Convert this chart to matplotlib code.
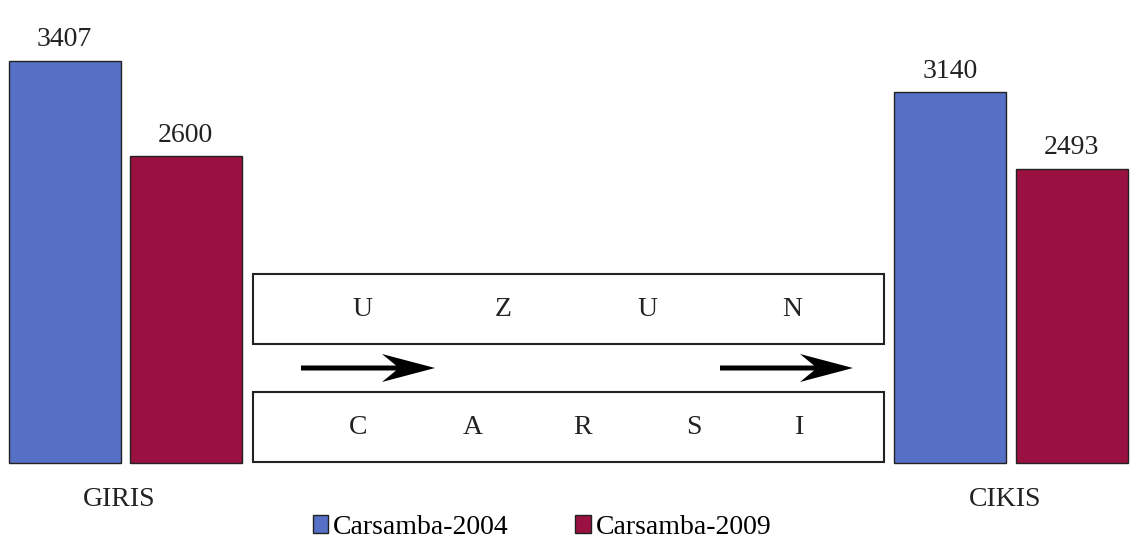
import numpy as np
import matplotlib.pyplot as plt
from matplotlib.patches import Rectangle, Polygon

plt.rcParams['font.family'] = ['Liberation Serif', 'DejaVu Serif']

# data
kategoriler = ['GIRIS', 'CIKIS']
seriler = ['Carsamba-2004', 'Carsamba-2009']
degerler_2004 = [3407, 3140]
degerler_2009 = [2600, 2493]
ust_harfler = ['U', 'Z', 'U', 'N']
alt_harfler = ['C', 'A', 'R', 'S', 'I']

renkler = ['#5570c4', '#9a1141']

W, H = 1131, 547
fig = plt.figure(figsize=(W / 100, H / 100), dpi=100)

# bars: x = category index, y = value (baseline at pixel 463)
ax = fig.add_axes([0, 0, 1, 1])
ax.axis('off')
px_per_unit = 886.0          # pixels between the two groups
k = 0.1181                   # pixels per value unit
ax.set_xlim(-125 / px_per_unit, 1 + 120 / px_per_unit)
ax.set_ylim(-(H - 463) / k, 463 / k)

x = np.arange(len(kategoriler))
bw = 112 / px_per_unit
off = 60.5 / px_per_unit
b1 = ax.bar(x - off, degerler_2004, width=bw, color=renkler[0], edgecolor='#222222',
            linewidth=1.0, label=seriler[0])
b2 = ax.bar(x + off, degerler_2009, width=bw, color=renkler[1], edgecolor='#222222',
            linewidth=1.0, label=seriler[1])
for bars in (b1, b2):
    for r in bars:
        ax.annotate(str(int(r.get_height())), (r.get_x() + r.get_width() / 2, r.get_height()),
                    xytext=(0, 6), textcoords='offset points', ha='center', va='bottom',
                    fontsize=20, color='#222222')

tr = ax.get_xaxis_transform()
for i, kat in enumerate(kategoriler):
    ax.text(i - 0.007, 1 - 500 / H, kat, transform=tr, ha='center', va='center',
            fontsize=20, color='#222222')

ax.legend(loc='center', bbox_to_anchor=(542 / W, 1 - 527 / H), bbox_transform=fig.transFigure,
          ncol=2, frameon=False, fontsize=20, handlelength=0.55, handleheight=0.6,
          handletextpad=0.18, columnspacing=2.4, borderpad=0)

# overlay in pixel coordinates for the street diagram
ov = fig.add_axes([0, 0, 1, 1])
ov.set_xlim(0, W)
ov.set_ylim(H, 0)
ov.axis('off')

ov.add_patch(Rectangle((253, 274), 631, 70, fill=False, edgecolor='#222222', linewidth=1.5))
ov.add_patch(Rectangle((253, 392), 631, 70, fill=False, edgecolor='#222222', linewidth=1.5))

for xp, h in zip([362, 503, 647, 792], ust_harfler):
    ov.text(xp, 310, h, ha='center', va='center', fontsize=20, color='#222222')
for xp, h in zip([358, 473, 583, 694, 800], alt_harfler):
    ov.text(xp, 428, h, ha='center', va='center', fontsize=20, color='#222222')


def ok(x0, x1, y):
    xb = x1 - 53
    xn = xb + 14
    pts = [(x0, y - 2.5), (xn, y - 2.5), (xb, y - 14), (x1, y),
           (xb, y + 14), (xn, y + 2.5), (x0, y + 2.5)]
    ov.add_patch(Polygon(pts, closed=True, color='black', linewidth=0))


ok(301, 435, 368)
ok(720, 853, 368)

fig.savefig('out.png', dpi=100)
